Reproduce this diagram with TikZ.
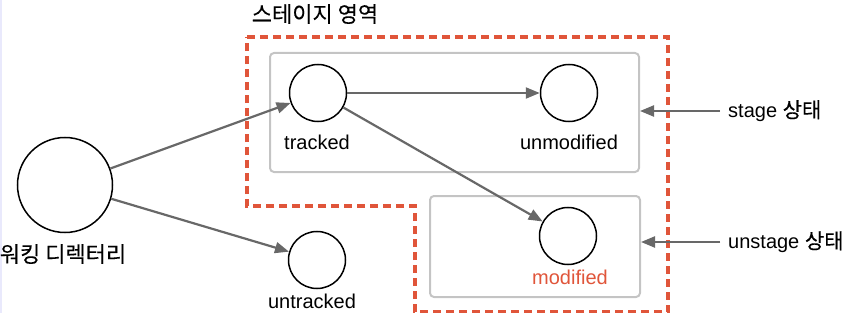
\documentclass[tikz,border=0pt]{standalone}
\usepackage{fontspec}
\setmainfont{Liberation Sans}
\newfontfamily\kr[FakeBold=0.15]{Noto Sans CJK KR}
\usepackage{tikz}
\usetikzlibrary{arrows.meta, positioning}

\definecolor{stagerot}{HTML}{E0553A}
\definecolor{pfeilgrau}{HTML}{686868}
\definecolor{boxgrau}{HTML}{C4C4C4}

\begin{document}
\begin{tikzpicture}[x=1pt,y=-1pt,
    kreis/.style={circle, draw=black, line width=1.5pt, minimum size=#1, inner sep=0pt},
    kreis/.default=57pt,
    pfeil/.style={-{Triangle[length=14pt,width=11pt]}, draw=pfeilgrau, fill=pfeilgrau, line width=2.2pt},
    zustand/.style={draw=boxgrau, line width=2pt, rounded corners=4pt, inner sep=0pt},
    schrift/.style={font=\fontsize{20}{24}\selectfont, inner sep=1pt},
    titel/.style={font=\fontsize{22}{26}\selectfont\kr, inner sep=1pt}]
			\useasboundingbox (0,0) rectangle (847,313);
			\draw[gray!25!blue!10, line width=1.5pt] (1,0) -- (1,313);
			
			% Bereiche
			\draw[stagerot, line width=3.2pt, dash pattern=on 8pt off 5pt]
				(247,37) -- (668,37) -- (668,312) -- (415,312) -- (415,206) -- (247,206) -- cycle;
			\node[titel] (stagetitel) at (315,14) {스테이지 영역};
			\node[zustand, minimum width=369pt, minimum height=119pt] (stagebox) at (454.5,112.5) {};
			\node[zustand, minimum width=210pt, minimum height=101pt] (unstagebox) at (535,246.5) {};
			
			% Knoten
			\node[kreis=95pt] (wd) at (65,185) {};
			\node[titel] (wdlbl) at (63,254) {워킹 디렉터리};
			\node[kreis] (tracked) at (318,93) {};
			\node[schrift] (trackedlbl) at (317,142) {tracked};
			\node[kreis] (unmod) at (569,93) {};
			\node[schrift] (unmodlbl) at (569,142) {unmodified};
			\node[kreis] (mod) at (568,236) {};
			\node[schrift, text=stagerot] (modlbl) at (570,277) {modified};
			\node[kreis] (untracked) at (317,260) {};
			\node[schrift] (untrackedlbl) at (312,301) {untracked};
			
			% Zustaende rechts
			\node[schrift, anchor=west, inner xsep=8pt] (stagelbl) at (720,111) {stage {\kr\fontsize{21}{24}\selectfont 상태}};
			\node[schrift, anchor=west, inner xsep=8pt] (unstagelbl) at (720,242) {unstage {\kr\fontsize{21}{24}\selectfont 상태}};
			
			% Pfeile
			\draw[pfeil] (wd) -- (tracked);
			\draw[pfeil] (wd) -- (untracked);
			\draw[pfeil] (tracked) -- (unmod);
			\draw[pfeil] (tracked) -- (mod);
			\draw[pfeil] (stagelbl.west) -- (stagelbl.west -| stagebox.east);
			\draw[pfeil] (unstagelbl.west) -- (unstagelbl.west -| unstagebox.east);
		\end{tikzpicture}
\end{document}
